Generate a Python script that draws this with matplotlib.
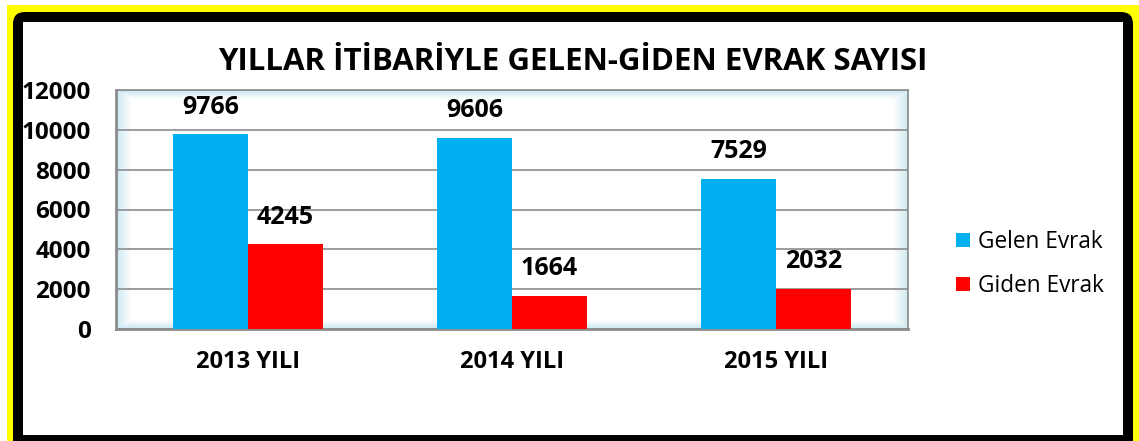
import numpy as np
import matplotlib.pyplot as plt
from matplotlib.patches import Rectangle, FancyBboxPatch
from matplotlib.transforms import IdentityTransform

# Data
years = ["2013 YILI", "2014 YILI", "2015 YILI"]
gelen = [9766, 9606, 7529]
giden = [4245, 1664, 2032]
series_names = ["Gelen Evrak", "Giden Evrak"]
title = "YILLAR İTİBARİYLE GELEN-GİDEN EVRAK SAYISI"

W, H = 1139, 441
fig = plt.figure(figsize=(W / 100, H / 100), dpi=100, facecolor="white")
plt.rcParams['font.family'] = ['Open Sans', 'DejaVu Sans']

# frame: yellow, black rounded border, white inside (pixel coords, origin bottom-left)
pix = IdentityTransform()
fig.patches.append(Rectangle((7, 0), W - 7, H - 5, transform=pix, facecolor="#ffff00",
                             edgecolor="none", zorder=0))
fig.patches.append(FancyBboxPatch((13, -20), 1120, H - 12 + 20, transform=pix,
                                  boxstyle="round,pad=0,rounding_size=12",
                                  facecolor="black", edgecolor="none", zorder=1))
fig.patches.append(Rectangle((23, 6), 1100, H - 22 - 6, transform=pix, facecolor="white",
                             edgecolor="none", zorder=2))

# plot area
ax = fig.add_axes([116 / W, 1 - 329 / H, (908 - 116) / W, (329 - 90) / H])
ax.set_zorder(3)

# soft light-blue shading along the edges of the plot area
nx, ny = 800, 240
xx = np.linspace(0, 1, nx)
yy = np.linspace(0, 1, ny)
dx = np.minimum(xx, 1 - xx) * 792 / 16.0
dy = np.minimum(yy, 1 - yy) * 239 / 9.0
t = np.clip(np.minimum(dx[None, :], dy[:, None]), 0, 1) ** 0.8
c0 = np.array([0.78, 0.90, 0.94])
c1 = np.array([1.0, 1.0, 1.0])
img = c0[None, None, :] * (1 - t[..., None]) + c1[None, None, :] * t[..., None]
ax.imshow(img, extent=[0, 1, 0, 1], transform=ax.transAxes, aspect="auto", zorder=0)

x = np.arange(len(years))
w = 0.284
b1 = ax.bar(x - w / 2, gelen, w, color="#00b0f0", label=series_names[0], zorder=3)
b2 = ax.bar(x + w / 2, giden, w, color="#ff0000", label=series_names[1], zorder=3)

for bars, vals in ((b1, gelen), (b2, giden)):
    for r, v in zip(bars, vals):
        ax.annotate(f"{v}", (r.get_x() + r.get_width() / 2, v), xytext=(0, 19.5),
                    textcoords="offset points", ha="center", va="center",
                    fontsize=18, fontweight="bold", zorder=4)

ax.set_xlim(-0.5, 2.5)
ax.set_ylim(0, 12000)
ax.set_yticks(np.arange(0, 12001, 2000))
ax.yaxis.grid(True, color="#8c8c8c", linewidth=1.2, zorder=1)
ax.set_axisbelow(True)
ax.set_xticks(x)
ax.set_xticklabels(years, fontsize=17, fontweight="bold")
ax.tick_params(axis="x", length=0, pad=15)
ax.tick_params(axis="y", length=0, pad=18, labelsize=17.5)
for lbl in ax.get_yticklabels():
    lbl.set_fontweight("bold")
for s in ax.spines.values():
    s.set_color("#8c8c8c")
    s.set_linewidth(1.2)
ax.spines["bottom"].set_linewidth(2)
ax.spines["left"].set_linewidth(2)

fig.text(573 / W, 1 - 62 / H, title, ha="center", va="center", fontsize=22.5,
         fontweight="bold", zorder=5)

leg = fig.legend(handles=[b1, b2], loc="center left", bbox_to_anchor=(936 / W, 1 - 264 / H),
                 frameon=False, fontsize=16.3, handlelength=0.6, handleheight=0.6,
                 handletextpad=0.35, labelspacing=0.9)
leg.set_zorder(5)

fig.savefig("out.png", dpi=100, facecolor=fig.get_facecolor())
